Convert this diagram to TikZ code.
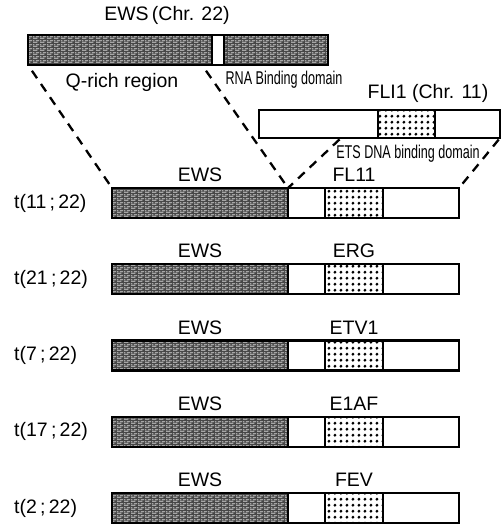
\documentclass[tikz,border=0pt]{standalone}
\usepackage{fontspec}
\setmainfont{Liberation Sans}
\newfontfamily\narrowfont[FakeStretch=0.68]{Liberation Sans}
\usetikzlibrary{patterns}
\pgfdeclarepatternformonly{ewsbricks}{\pgfpointorigin}{\pgfpoint{6.5pt}{3.5pt}}{\pgfpoint{6.5pt}{3.5pt}}{
  \pgfpathrectangle{\pgfpoint{0pt}{0.4pt}}{\pgfpoint{4.8pt}{0.9pt}}
  \pgfpathrectangle{\pgfpoint{3.2pt}{2.15pt}}{\pgfpoint{3.3pt}{0.9pt}}
  \pgfpathrectangle{\pgfpoint{0pt}{2.15pt}}{\pgfpoint{1.6pt}{0.9pt}}
  \pgfusepath{fill}}
\pgfdeclarepatternformonly{etsdots}{\pgfpointorigin}{\pgfpoint{6.4pt}{5.8pt}}{\pgfpoint{6.4pt}{5.8pt}}{
  \pgfpathcircle{\pgfpoint{3.2pt}{2.9pt}}{1.65pt}\pgfusepath{fill}}
\tikzset{
  seg/.style={draw, line width=2.2pt, inner sep=0pt, outer sep=0pt, anchor=north west, minimum height=30pt},
  ewsseg/.style={seg, preaction={fill=black!72}, pattern=ewsbricks, pattern color=white!85!black},
  whiteseg/.style={seg, fill=white},
  dotseg/.style={seg, pattern=etsdots},
  conn/.style={draw, line width=2.3pt, dash pattern=on 9pt off 7pt},
  big/.style={font=\fontsize{19.5}{22}\selectfont, inner sep=0pt},
  narrowlbl/.style={font=\narrowfont\fontsize{18.5}{22}\selectfont, inner sep=0pt},
}
\begin{document}
\begin{tikzpicture}[x=1pt, y=-1pt]
\useasboundingbox (0,0) rectangle (502,525);
% EWS (Chr. 22)
\node[big] (ewstitle) at (167,15) {EWS\,(Chr. 22)};
\node[ewsseg, minimum width=184pt] (top1) at (28,35) {};
\node[whiteseg, minimum width=12pt] (top2) at (212,35) {};
\node[ewsseg, minimum width=104pt] (top3) at (224,35) {};
\node[big] (qrich) at (122,82) {Q-rich region};
\node[narrowlbl] (rnabd) at (284,80) {RNA Binding domain};
% FLI1 (Chr. 11)
\node[big] (flititle) at (428,93) {FLI1 (Chr. 11)};
\node[whiteseg, minimum width=119pt, minimum height=28pt] (fli1) at (259,110) {};
\node[dotseg, minimum width=57pt, minimum height=28pt] (fli2) at (378,110) {};
\node[whiteseg, minimum width=65pt, minimum height=28pt] (fli3) at (435,110) {};
\node[narrowlbl] (etsbd) at (408,154) {ETS DNA binding domain};
\coordinate (brk) at (341,138);
% fusion rows
\foreach \k/\tr/\pt in {0/{t(11\,;\,22)}/FL11, 1/{t(21\,;\,22)}/ERG, 2/{t(7\,;\,22)}/ETV1, 3/{t(17\,;\,22)}/E1AF, 4/{t(2\,;\,22)}/FEV}{
  \pgfmathsetmacro{\yy}{188+76.25*\k}
  \node[ewsseg, minimum width=176pt] (r\k e) at (112,\yy) {};
  \node[whiteseg, minimum width=37pt] (r\k a) at (288,\yy) {};
  \node[dotseg, minimum width=58pt] (r\k b) at (325,\yy) {};
  \node[whiteseg, minimum width=76pt] (r\k c) at (383,\yy) {};
  \node[big] (r\k ews) at (200,\yy-13) {EWS};
  \node[big] (r\k p) at (354,\yy-13) {\pt};
  \node[big, anchor=west] (r\k t) at (14,\yy+15) {\tr};
}
% connectors
\draw[conn, shorten <=7pt] (top1.south west) -- (r0e.north west);
\draw[conn, shorten <=7pt] ([xshift=-10pt]top2.south west) -- (r0e.north east);
\draw[conn, shorten <=2pt] (brk) -- (r0e.north east);
\draw[conn, shorten <=2pt] (fli3.south east) -- (r0c.north east);
\end{tikzpicture}
\end{document}
